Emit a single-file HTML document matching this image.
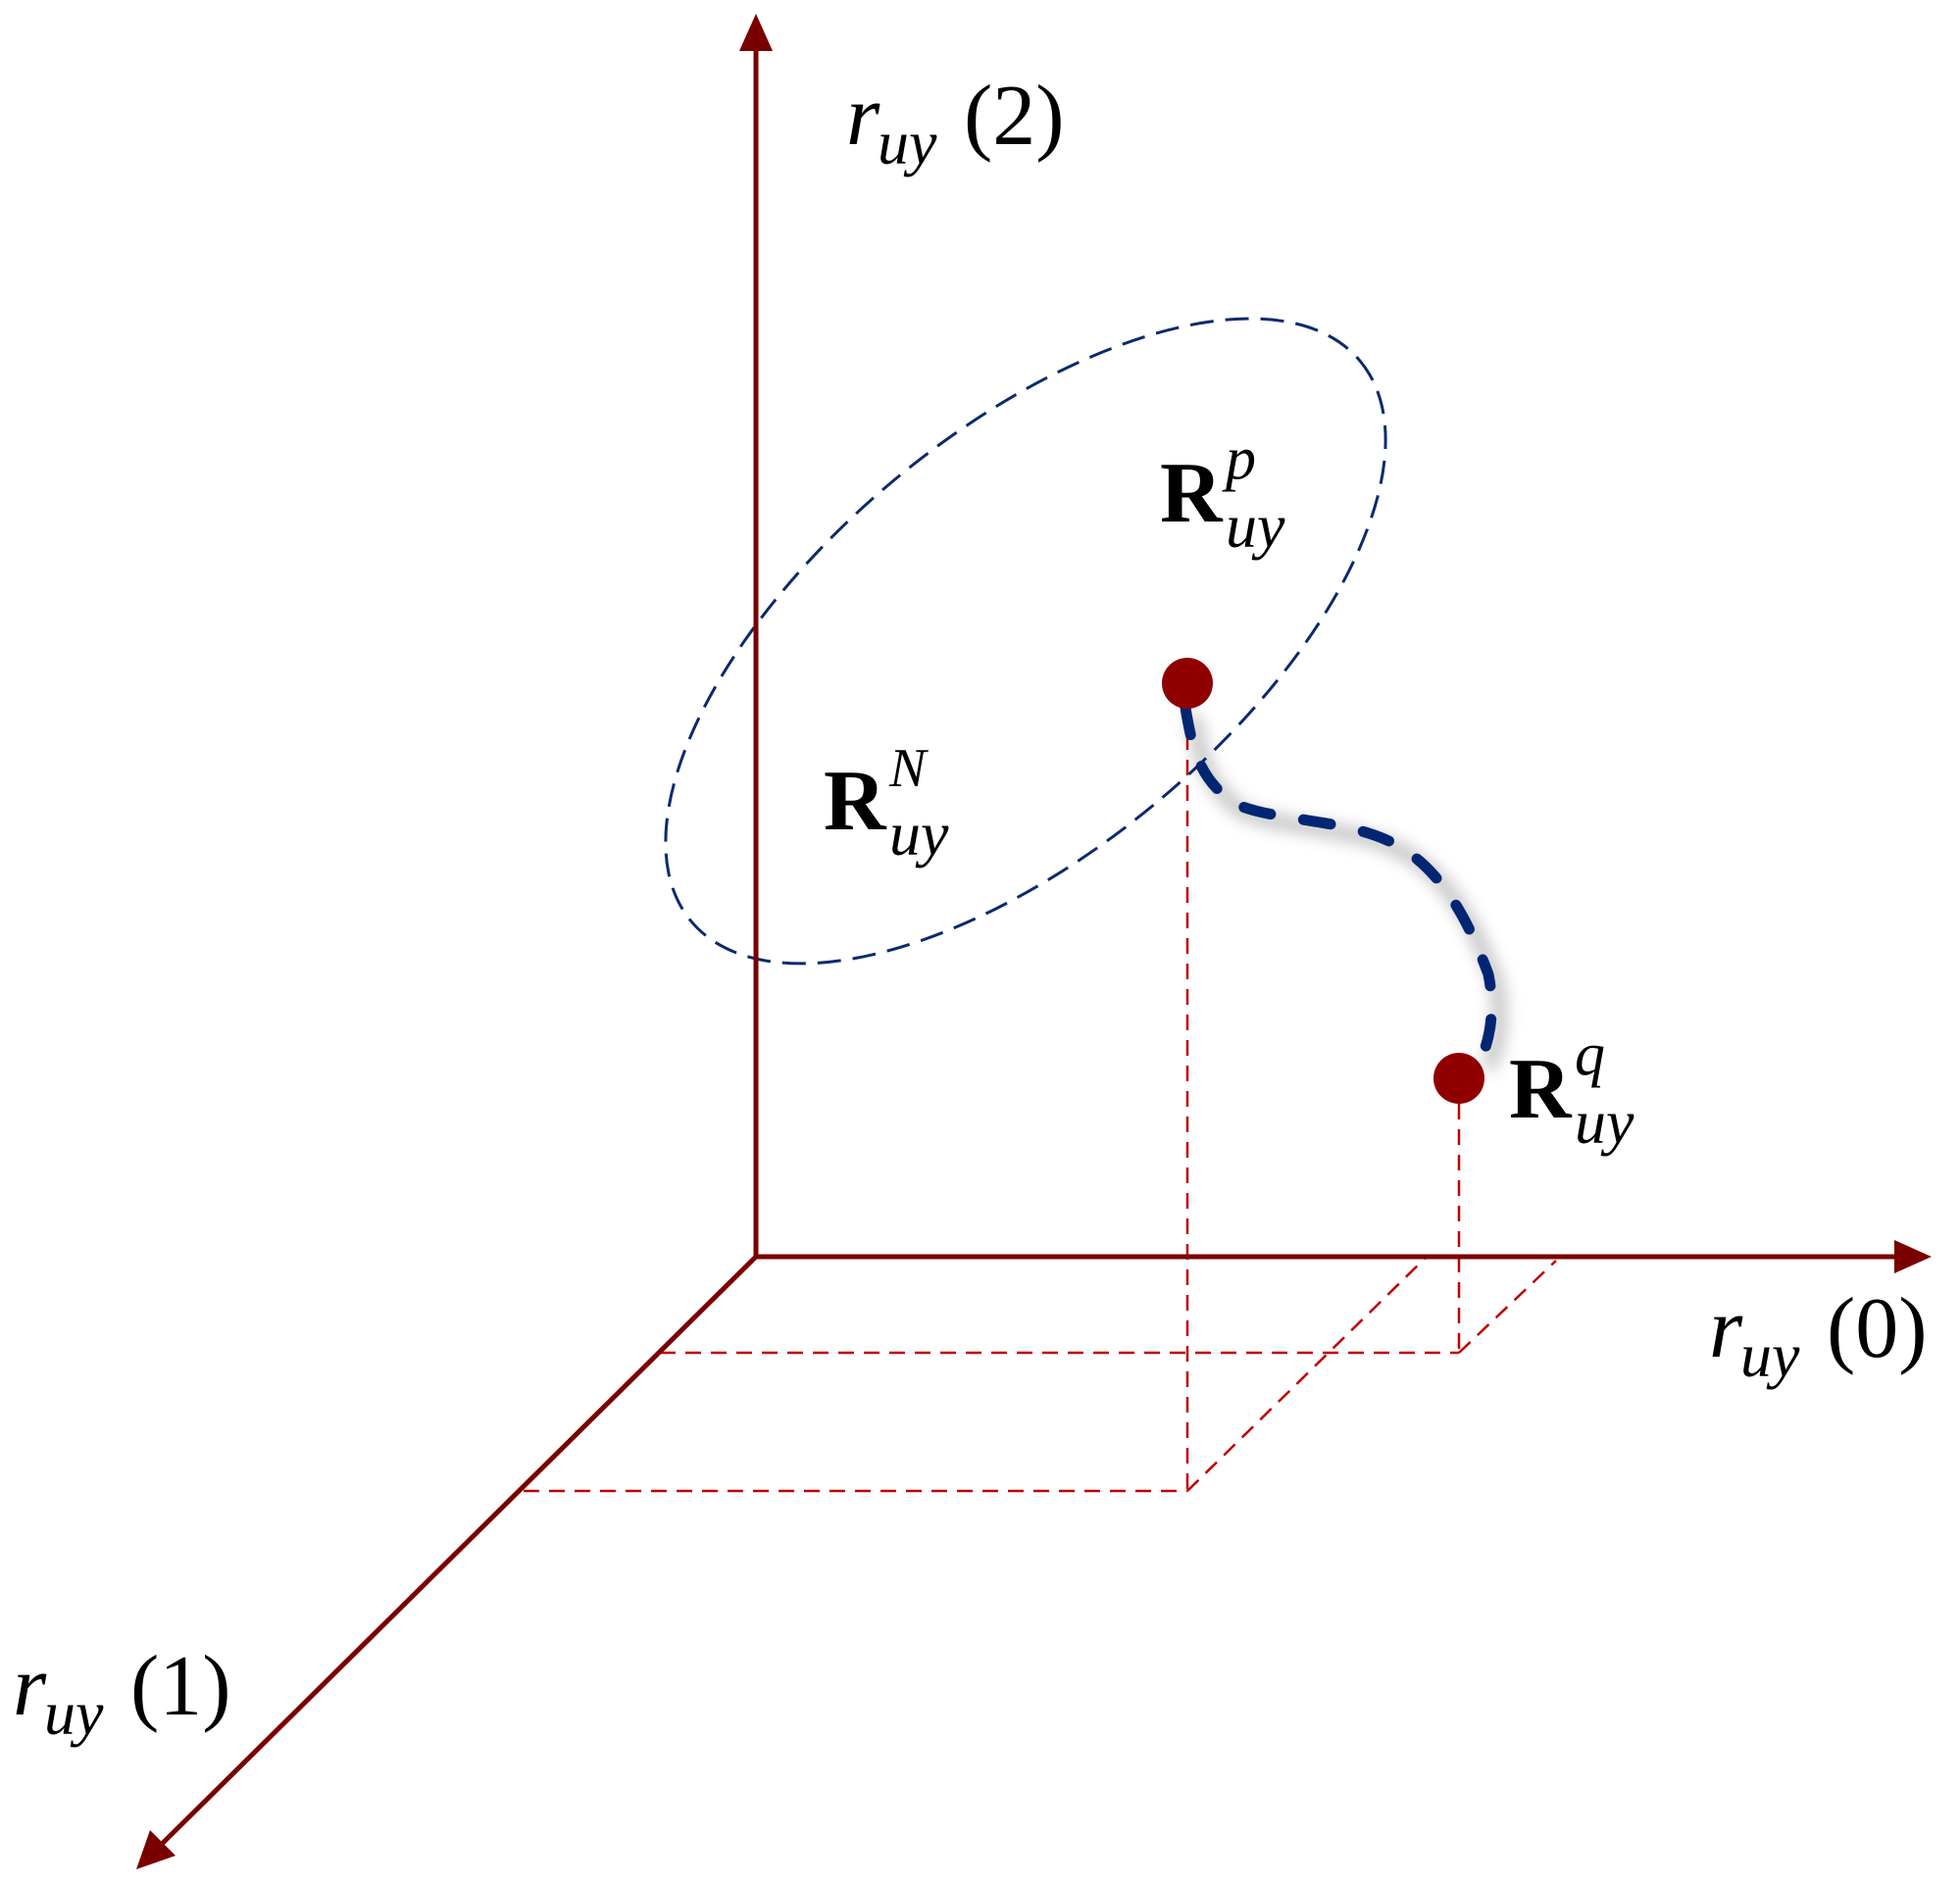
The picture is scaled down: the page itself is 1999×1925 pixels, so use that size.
<!DOCTYPE html>
<html><head><meta charset="utf-8"><style>
html,body{margin:0;padding:0;background:#fff;}
svg{display:block}
text{font-family:"Liberation Serif",serif;fill:#000}
</style></head><body>
<svg width="1999" height="1925" viewBox="0 0 1999 1925" xmlns="http://www.w3.org/2000/svg">
<defs>
<filter id="blur" x="-20%" y="-20%" width="140%" height="140%"><feGaussianBlur stdDeviation="8"/></filter>
</defs>
<g transform="translate(-2,-6)">
<g stroke="#c00000" stroke-width="2.5" stroke-dasharray="16,10" fill="none">
<line x1="1213" y1="703" x2="1213" y2="1527"/>
<line x1="1490" y1="1106" x2="1490" y2="1386"/>
<line x1="675" y1="1386" x2="1490" y2="1386"/>
<line x1="536" y1="1527" x2="1213" y2="1527"/>
<line x1="1490" y1="1386" x2="1589" y2="1292"/>
<line x1="1213" y1="1527" x2="1457" y2="1288"/>
</g>
<ellipse cx="1048" cy="660" rx="445" ry="212" transform="rotate(-40 1048 660)" fill="none" stroke="#0a2a6e" stroke-width="3" stroke-dasharray="24,12"/>
<g stroke="#7a0000" stroke-width="5" fill="none">
<line x1="773" y1="1288" x2="773" y2="45"/>
<line x1="773" y1="1288" x2="1945" y2="1288"/>
<line x1="773" y1="1288" x2="160" y2="1894"/>
</g>
<g fill="#7a0000">
<polygon points="773,20 756,58 790,58"/>
<polygon points="1972,1288 1934,1271 1934,1305"/>
<polygon points="141,1913 155,1873 181,1899"/>
</g>
<path d="M1211,728 C1218,770 1225,800 1260,825 C1300,845 1380,840 1430,870 C1480,900 1505,960 1520,1000 C1528,1040 1520,1070 1512,1087" fill="none" stroke="#000" stroke-opacity="0.25" stroke-width="14" filter="url(#blur)" transform="translate(8,8)"/>
<path d="M1211,728 C1218,770 1225,800 1260,825 C1300,845 1380,840 1430,870 C1480,900 1505,960 1520,1000 C1528,1040 1520,1070 1512,1087" fill="none" stroke="#002673" stroke-width="11" stroke-linecap="round" stroke-dasharray="28,34"/>
<circle cx="1213" cy="703" r="26" fill="#900000"/>
<circle cx="1490" cy="1106" r="26" fill="#900000"/>
</g>
<text x="863" y="147" font-size="88" font-style="italic">r</text>
<text x="895" y="167" font-size="64" font-style="italic">uy</text>
<text x="983" y="147" font-size="88">(2)</text>

<text x="1743" y="1384" font-size="88" font-style="italic">r</text>
<text x="1775" y="1404" font-size="64" font-style="italic">uy</text>
<text x="1863" y="1384" font-size="88">(0)</text>

<text x="13" y="1749" font-size="88" font-style="italic">r</text>
<text x="45" y="1769" font-size="64" font-style="italic">uy</text>
<text x="133" y="1749" font-size="88">(1)</text>

<text x="1183" y="532" font-size="88" font-weight="bold">R</text>
<text x="1250" y="488" font-size="62" font-style="italic">p</text>
<text x="1250" y="558" font-size="64" font-style="italic">uy</text>

<text x="840" y="846" font-size="88" font-weight="bold">R</text>
<text x="907" y="802" font-size="56" font-style="italic">N</text>
<text x="907" y="872" font-size="64" font-style="italic">uy</text>

<text x="1539" y="1140" font-size="88" font-weight="bold">R</text>
<text x="1606" y="1096" font-size="62" font-style="italic">q</text>
<text x="1606" y="1166" font-size="64" font-style="italic">uy</text>
</svg>
</body></html>
